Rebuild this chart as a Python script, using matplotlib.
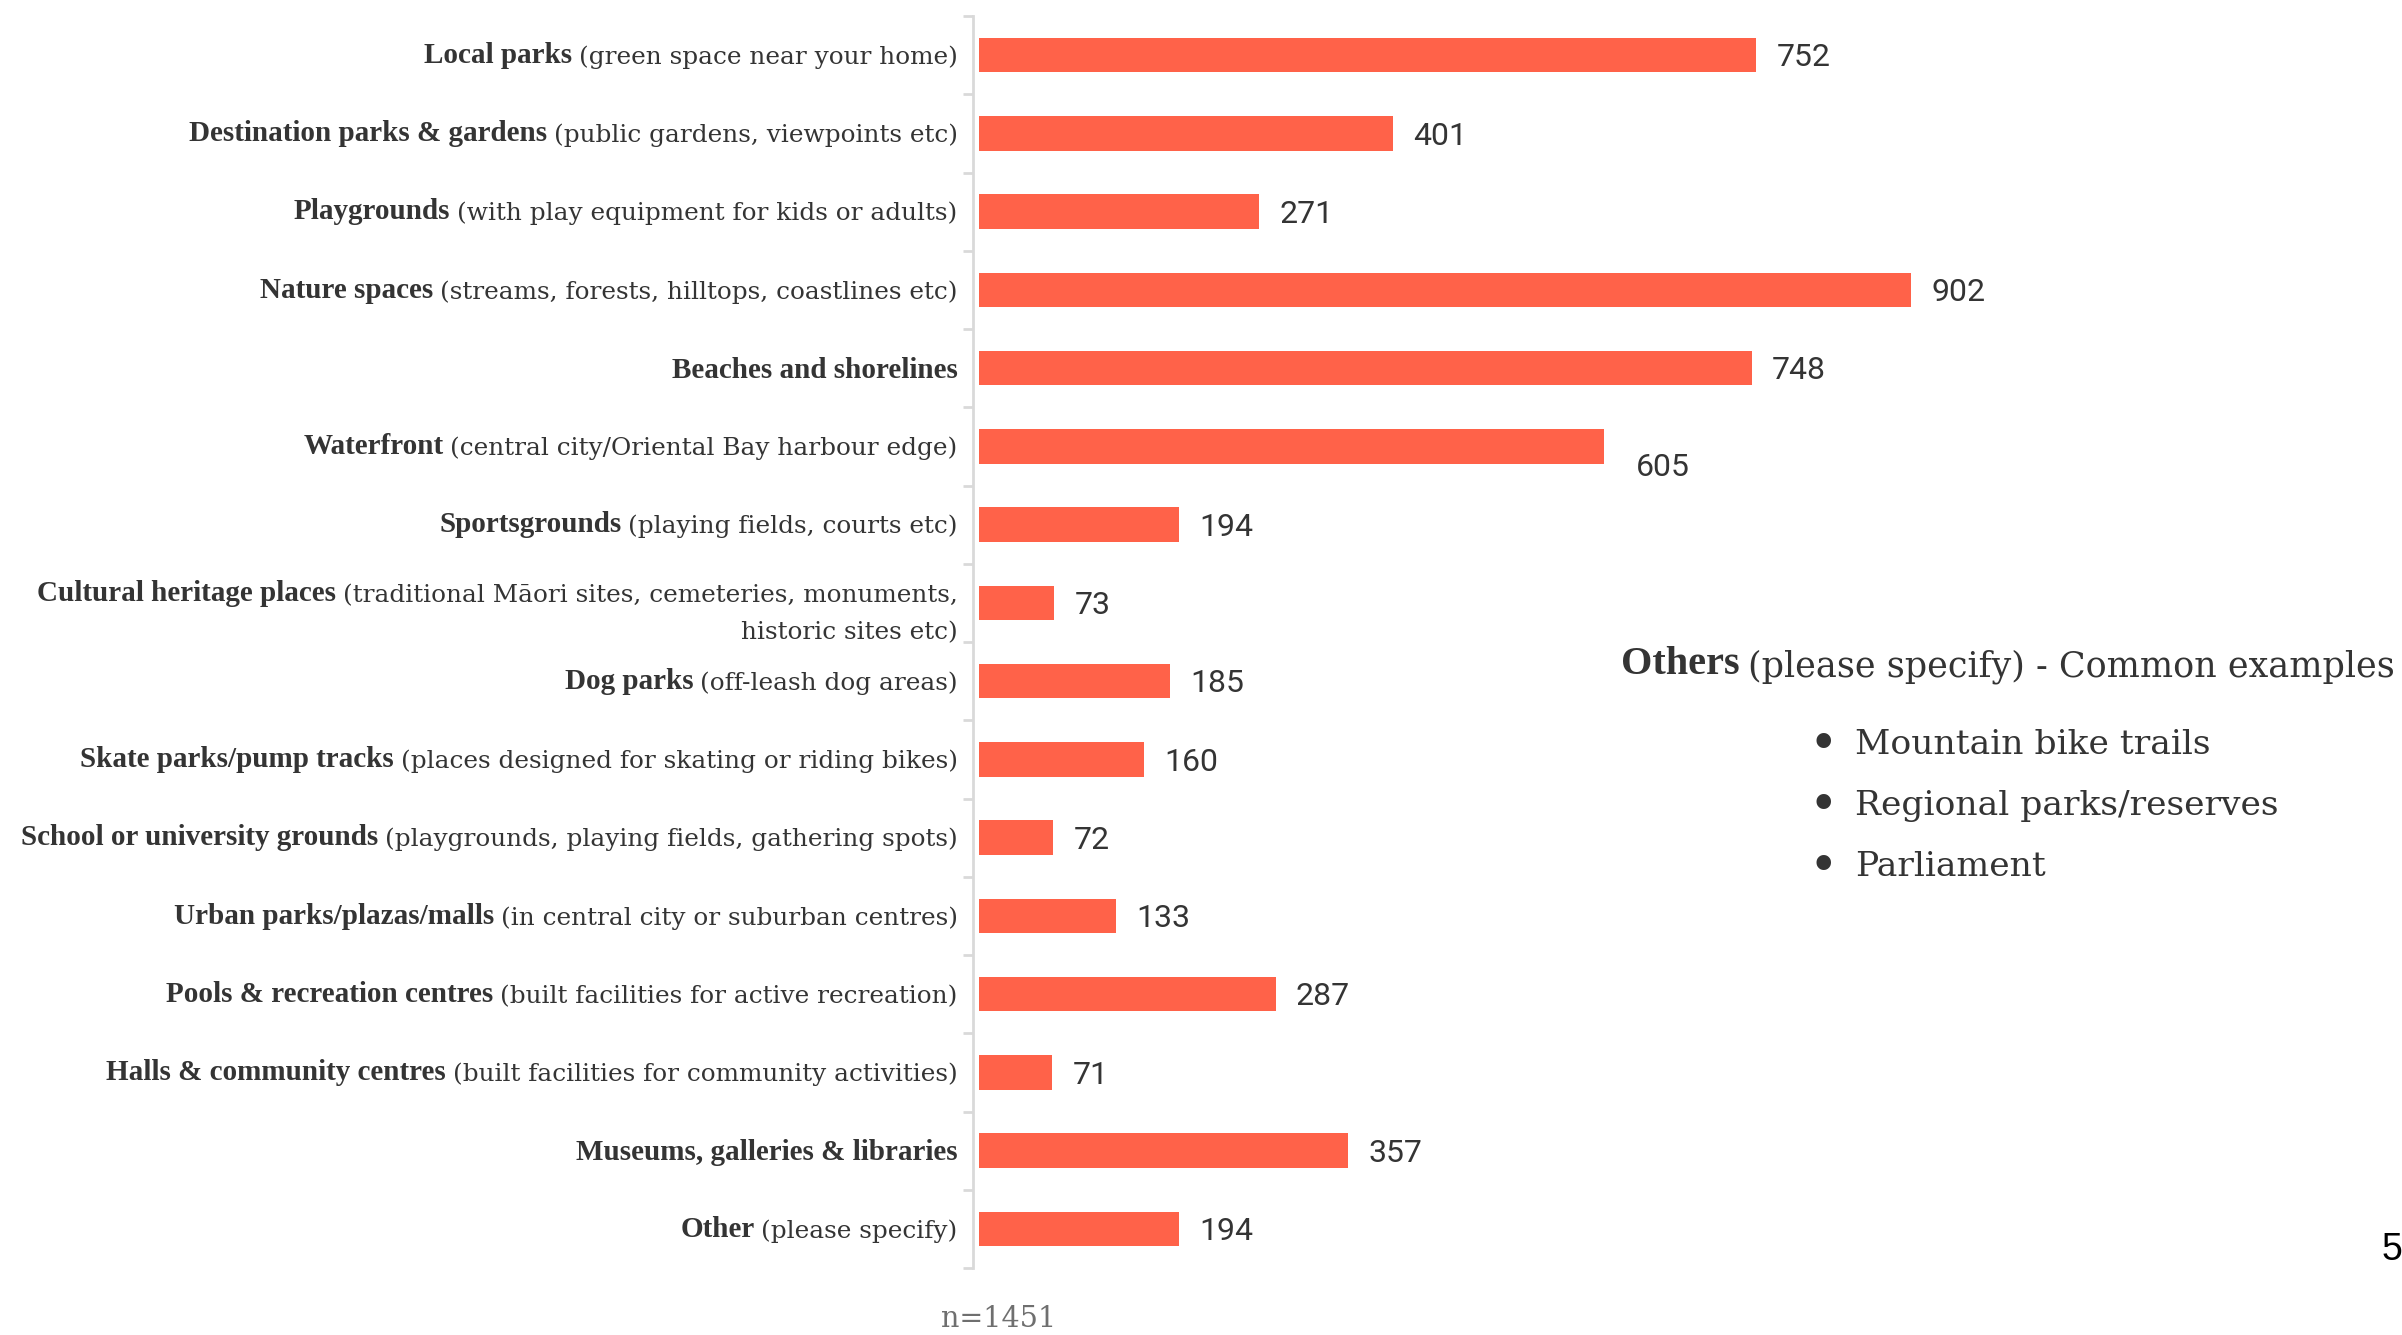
import matplotlib
matplotlib.use("Agg")
import matplotlib.pyplot as plt
import numpy as np

names = ["Local parks", "Destination parks & gardens", "Playgrounds", "Nature spaces",
         "Beaches and shorelines", "Waterfront", "Sportsgrounds", "Cultural heritage places",
         "Dog parks", "Skate parks/pump tracks", "School or university grounds",
         "Urban parks/plazas/malls", "Pools & recreation centres", "Halls & community centres",
         "Museums, galleries & libraries", "Other"]
notes = ["(green space near your home)",
         "(public gardens, viewpoints etc)",
         "(with play equipment for kids or adults)",
         "(streams, forests, hilltops, coastlines etc)",
         "",
         "(central city/Oriental Bay harbour edge)",
         "(playing fields, courts etc)",
         "(traditional Māori sites, cemeteries, monuments,\nhistoric sites etc)",
         "(off-leash dog areas)",
         "(places designed for skating or riding bikes)",
         "(playgrounds, playing fields, gathering spots)",
         "(in central city or suburban centres)",
         "(built facilities for active recreation)",
         "(built facilities for community activities)",
         "",
         "(please specify)"]
counts = [752, 401, 271, 902, 748, 605, 194, 73, 185, 160, 72, 133, 287, 71, 357, 194]
other_examples = ["Mountain bike trails", "Regional parks/reserves", "Parliament"]
sample_n = 1451

BAR = "#ff6249"
INK = "#343434"
SERIF = "DejaVu Serif"
BOLD = dict(family="Liberation Serif", fontweight="bold")
LABEL_SIZE = 17.8
BOLD_SIZE = 21

fig = plt.figure(figsize=(24.02, 13.35), dpi=100)
ax = fig.add_axes([973 / 2402, 1 - 1268 / 1335, 1027 / 2402, 1252 / 1335])

ypos = np.arange(len(counts))
ax.barh(ypos, counts, height=0.44, color=BAR, left=0)
ax.set_xlim(-5.8, 988)
ax.set_ylim(len(counts) - 0.5, -0.5)

for side in ["top", "right", "bottom"]:
    ax.spines[side].set_visible(False)
ax.spines["left"].set_color("#d9d9d9")
ax.spines["left"].set_linewidth(2)
ax.set_xticks([])
ax.set_yticks(np.arange(-0.5, len(counts), 1))
ax.set_yticklabels([])
ax.tick_params(axis="y", length=7, width=2, color="#d9d9d9")

# category labels: bold name followed by a regular description
for i, (name, note) in enumerate(zip(names, notes)):
    if not note:
        ax.annotate(name, xy=(0, i), xycoords=("axes fraction", "data"),
                    xytext=(-11, -1.5), textcoords="offset points", ha="right", va="center",
                    fontsize=BOLD_SIZE, color=INK, **BOLD)
        continue
    lines = note.split("\n")
    dy = -1.5 if len(lines) == 1 else 5
    first = ax.annotate(lines[0], xy=(0, i), xycoords=("axes fraction", "data"),
                        xytext=(-11, dy), textcoords="offset points", ha="right", va="center",
                        fontsize=LABEL_SIZE, family=SERIF, color=INK)
    ax.annotate(name, xy=(0, 0), xycoords=first, xytext=(-5, 0), textcoords="offset points",
                ha="right", va="bottom", fontsize=BOLD_SIZE, color=INK, **BOLD)
    for k, extra in enumerate(lines[1:], start=1):
        ax.annotate(extra, xy=(0, i), xycoords=("axes fraction", "data"),
                    xytext=(-11, dy - 26.5 * k), textcoords="offset points", ha="right",
                    va="center", fontsize=LABEL_SIZE, family=SERIF, color=INK)

# value labels at the end of each bar
nudge = {5: (8, -15)}
for i, v in enumerate(counts):
    dx, dy = nudge.get(i, (0, -2))
    ax.annotate(f"{v}", xy=(v, i), xytext=(14.5 + dx, dy), textcoords="offset points",
                ha="left", va="center", fontsize=23, family="Roboto", color=INK)

# notes on the "Other" answers
head = fig.text(1621 / 2402, 1 - 665 / 1335, "Others", ha="left", va="center",
                fontsize=29, color=INK, **BOLD)
fig.add_artist(matplotlib.text.Annotation(
    "(please specify) - Common examples", xy=(1, 0), xycoords=head, xytext=(6, 0),
    textcoords="offset points", ha="left", va="bottom", fontsize=25.2, family=SERIF,
    color=INK))

for k, item in enumerate(other_examples):
    y = 1 - (745 + 61 * k) / 1335
    fig.text(1823 / 2402, y, "\u2022", ha="center", va="center", fontsize=36,
             family=SERIF, color=INK)
    fig.text(1855 / 2402, y, item, ha="left", va="center", fontsize=24.8,
             family=SERIF, color=INK)

fig.text(999 / 2402, 1 - 1319 / 1335, f"n={sample_n}", ha="center", va="center",
         fontsize=20.6, family=SERIF, color="#6f6f6f")
fig.text(2392 / 2402, 1 - 1250 / 1335, "5", ha="center", va="center",
         fontsize=27, family="Liberation Sans", color="black")

fig.savefig("out.png", dpi=100, facecolor="white")
